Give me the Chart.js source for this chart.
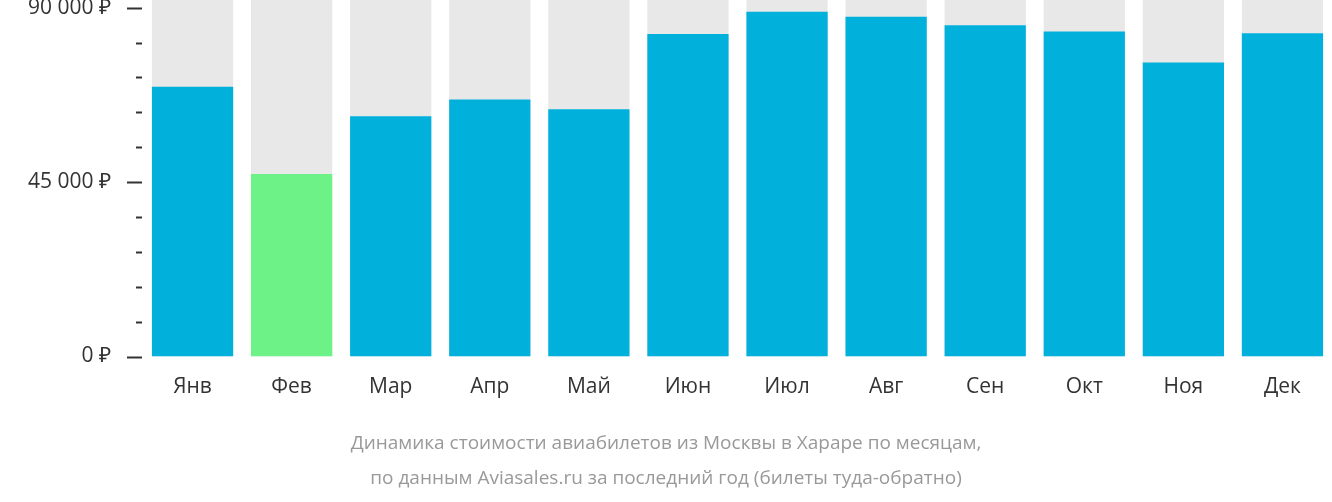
<!DOCTYPE html>
<html>
<head>
<meta charset="utf-8">
<script src="https://cdn.jsdelivr.net/npm/chart.js@4/dist/chart.umd.min.js"></script>
<style>
  html, body { margin: 0; padding: 0; background: #fff; }
  #wrap { width: 1332px; height: 502px; }
</style>
</head>
<body>
<div id="wrap"><canvas id="priceChart"></canvas></div>
<script>
// Месяцы и цены (руб.)
const months = ["Янв", "Фев", "Мар", "Апр", "Май", "Июн", "Июл", "Авг", "Сен", "Окт", "Ноя", "Дек"];
const prices = [69600, 47100, 62000, 66300, 63800, 83200, 89000, 87700, 85500, 83900, 75900, 83400];
const backdrop = [92000, 92000, 92000, 92000, 92000, 92000, 92000, 92000, 92000, 92000, 92000, 92000];
const yTickValues = [0, 9000, 18000, 27000, 36000, 45000, 54000, 63000, 72000, 81000, 90000];
const yTickLabels = { 0: "0 ₽", 45000: "45 000 ₽", 90000: "90 000 ₽" };
const cheapestIndex = 1;

const barColors = prices.map((v, i) => i === cheapestIndex ? "#6cf287" : "#02b0dc");

// Засечки оси Y: длинные на подписанных значениях, короткие между ними
const tickMarks = {
  id: "tickMarks",
  afterDraw(chart) {
    const y = chart.scales.y;
    const c = chart.ctx;
    c.save();
    c.strokeStyle = "#333";
    c.lineWidth = 2;
    yTickValues.forEach(v => {
      const py = Math.round(y.getPixelForValue(v)) + 0.5;
      const major = v in yTickLabels;
      c.beginPath();
      c.moveTo(y.right - (major ? 16 : 7), py);
      c.lineTo(y.right - 1, py);
      c.stroke();
    });
    c.restore();
  }
};

new Chart(document.getElementById("priceChart"), {
  type: "bar",
  data: {
    labels: months,
    datasets: [
      { data: prices, backgroundColor: barColors, order: 1, grouped: false, barPercentage: 0.82, categoryPercentage: 1 },
      { data: backdrop, backgroundColor: "#e8e8e8", order: 2, grouped: false, barPercentage: 0.82, categoryPercentage: 1 }
    ]
  },
  options: {
    responsive: true,
    maintainAspectRatio: false,
    animation: false,
    layout: { padding: { top: 0, right: 0, left: 0, bottom: 6 } },
    plugins: {
      legend: { display: false },
      tooltip: { enabled: false },
      title: {
        display: true,
        position: "bottom",
        text: ["Динамика стоимости авиабилетов из Москвы в Хараре по месяцам,", "по данным Aviasales.ru за последний год (билеты туда-обратно)"],
        color: "#999",
        font: { family: "Open Sans", size: 19, weight: "normal", lineHeight: 1.85 },
        padding: { top: 16, bottom: 0 }
      }
    },
    scales: {
      x: {
        grid: { display: false },
        border: { display: false },
        ticks: { color: "#333", font: { family: "Open Sans", size: 21 }, padding: 10 }
      },
      y: {
        min: 0,
        max: 92000,
        afterFit(scale) { scale.width = 143; scale.paddingTop = 0; },
        afterBuildTicks(scale) { scale.ticks = yTickValues.map(v => ({ value: v })); },
        grid: { display: false },
        border: { display: false },
        ticks: {
          autoSkip: false,
          padding: 24,
          color: "#333",
          font: { family: "Open Sans", size: 21 },
          callback: v => yTickLabels[v] || ""
        }
      }
    }
  },
  plugins: [tickMarks]
});
</script>
</body>
</html>
